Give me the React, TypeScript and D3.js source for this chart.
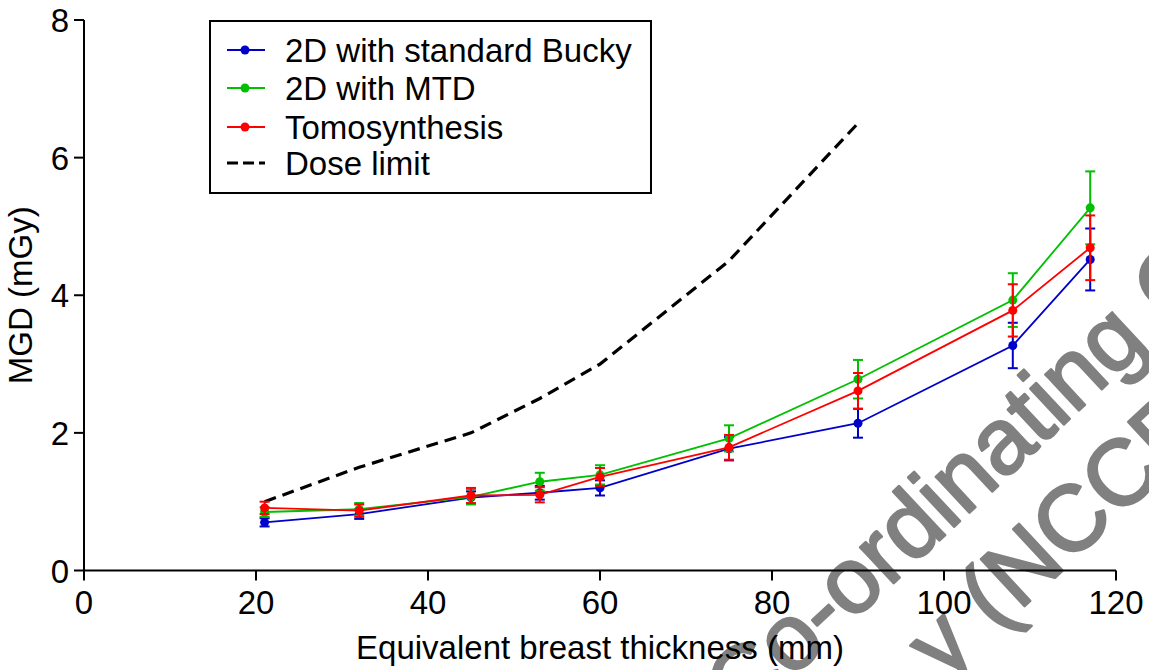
import React from "react";
import * as d3 from "d3";

// Breast thickness (mm) at which each dose was measured
const thickness = [21, 32, 45, 53, 60, 75, 90, 108, 117];

// Mean glandular dose (mGy) and error bar half-widths
const buckyDose = [0.7, 0.82, 1.06, 1.13, 1.2, 1.77, 2.14, 3.27, 4.52];
const buckyErr = [0.06, 0.07, 0.09, 0.1, 0.11, 0.17, 0.21, 0.33, 0.45];
const mtdDose = [0.85, 0.89, 1.07, 1.29, 1.39, 1.92, 2.78, 3.93, 5.27];
const mtdErr = [0.07, 0.09, 0.11, 0.13, 0.14, 0.19, 0.28, 0.39, 0.53];
const tomoDose = [0.91, 0.87, 1.09, 1.1, 1.36, 1.79, 2.61, 3.78, 4.69];
const tomoErr = [0.09, 0.09, 0.11, 0.11, 0.13, 0.18, 0.26, 0.38, 0.47];

// Dose limit curve
const limitThickness = [21, 32, 45, 53, 60, 75, 90];
const limitDose = [1.0, 1.5, 2.0, 2.5, 3.0, 4.5, 6.5];

const xTicks = [0, 20, 40, 60, 80, 100, 120];
const yTicks = [0, 2, 4, 6, 8];

const seriesNames = ["2D with standard Bucky", "2D with MTD", "Tomosynthesis"];
const seriesColors = ["#0000c8", "#00c000", "#ff0000"];
const limitName = "Dose limit";

const W = 1149;
const H = 670;
const FONT = "'Liberation Sans', Arial, Helvetica, sans-serif";

export default function App() {
  const x = d3.scaleLinear().domain([0, 120]).range([84, 1116]);
  const y = d3.scaleLinear().domain([0, 8]).range([570.5, 20]);

  const series = [
    { values: buckyDose, errs: buckyErr },
    { values: mtdDose, errs: mtdErr },
    { values: tomoDose, errs: tomoErr },
  ];

  const line = d3
    .line<[number, number]>()
    .x((d) => x(d[0]))
    .y((d) => y(d[1]));

  const limitPath = line(limitThickness.map((t, i) => [t, limitDose[i]]) as [number, number][]) || "";

  const legendRows = [50, 88, 127, 163];

  return (
    <svg
      width={W}
      height={H}
      viewBox={`0 0 ${W} ${H}`}
      style={{ position: "absolute", left: 0, top: 0, background: "#fff" }}
      fontFamily={FONT}
    >
      <rect x={0} y={0} width={W} height={H} fill="#fff" />

      {/* watermark */}
      <g
        transform="rotate(-43)"
        fill="#808080"
        stroke="#808080"
        strokeWidth={2.5}
        strokeLinejoin="round"
        fontSize={93}
      >
        <text x={48} y={1036}>Co-ordinating Centre</text>
        <text x={225} y={1142}>y (NCCPM)</text>
      </g>

      {/* dose limit */}
      <path d={limitPath} fill="none" stroke="#000" strokeWidth={3.2} strokeDasharray="12 7" />

      {/* measured series */}
      {series.map((s, si) => {
        const pts = thickness.map((t, i) => [t, s.values[i]] as [number, number]);
        const color = seriesColors[si];
        return (
          <g key={si}>
            <path d={line(pts) || ""} fill="none" stroke={color} strokeWidth={1.8} />
            {thickness.map((t, i) => {
              const cx = x(t);
              const top = y(s.values[i] + s.errs[i]);
              const bot = y(s.values[i] - s.errs[i]);
              return (
                <g key={i} stroke={color} strokeWidth={2}>
                  <line x1={cx} x2={cx} y1={top} y2={bot} />
                  <line x1={cx - 5} x2={cx + 5} y1={top} y2={top} />
                  <line x1={cx - 5} x2={cx + 5} y1={bot} y2={bot} />
                </g>
              );
            })}
            {thickness.map((t, i) => (
              <circle key={"c" + i} cx={x(t)} cy={y(s.values[i])} r={4.5} fill={color} />
            ))}
          </g>
        );
      })}

      {/* axes */}
      <g stroke="#000" strokeWidth={2}>
        <line x1={x(0)} x2={x(120)} y1={y(0)} y2={y(0)} />
        <line x1={x(0)} x2={x(0)} y1={y(0)} y2={y(8)} />
        {xTicks.map((t) => (
          <line key={"xt" + t} x1={x(t)} x2={x(t)} y1={y(0)} y2={y(0) + 10} />
        ))}
        {yTicks.map((t) => (
          <line key={"yt" + t} x1={x(0) - 10} x2={x(0)} y1={y(t)} y2={y(t)} />
        ))}
      </g>
      <g fontSize={33} fill="#000">
        {xTicks.map((t) => (
          <text key={"xl" + t} x={x(t)} y={614} textAnchor="middle">
            {t}
          </text>
        ))}
        {yTicks.map((t) => (
          <text key={"yl" + t} x={69} y={y(t) + 12} textAnchor="end">
            {t}
          </text>
        ))}
        <text x={600} y={659} textAnchor="middle">
          Equivalent breast thickness (mm)
        </text>
        <text transform={`translate(32, ${y(4)}) rotate(-90)`} textAnchor="middle">
          MGD (mGy)
        </text>
      </g>

      {/* legend */}
      <g>
        <rect x={210} y={21} width={441} height={172} fill="#fff" stroke="#000" strokeWidth={2} />
        {seriesNames.map((name, i) => (
          <g key={name}>
            <line x1={227} x2={265} y1={legendRows[i]} y2={legendRows[i]} stroke={seriesColors[i]} strokeWidth={2} />
            <circle cx={245} cy={legendRows[i]} r={4.5} fill={seriesColors[i]} />
            <text x={285} y={legendRows[i] + 12} fontSize={33} fill="#000">
              {name}
            </text>
          </g>
        ))}
        <line x1={227} x2={265} y1={legendRows[3]} y2={legendRows[3]} stroke="#000" strokeWidth={3} strokeDasharray="11 5" />
        <text x={285} y={legendRows[3] + 12} fontSize={33} fill="#000">
          {limitName}
        </text>
      </g>
    </svg>
  );
}
